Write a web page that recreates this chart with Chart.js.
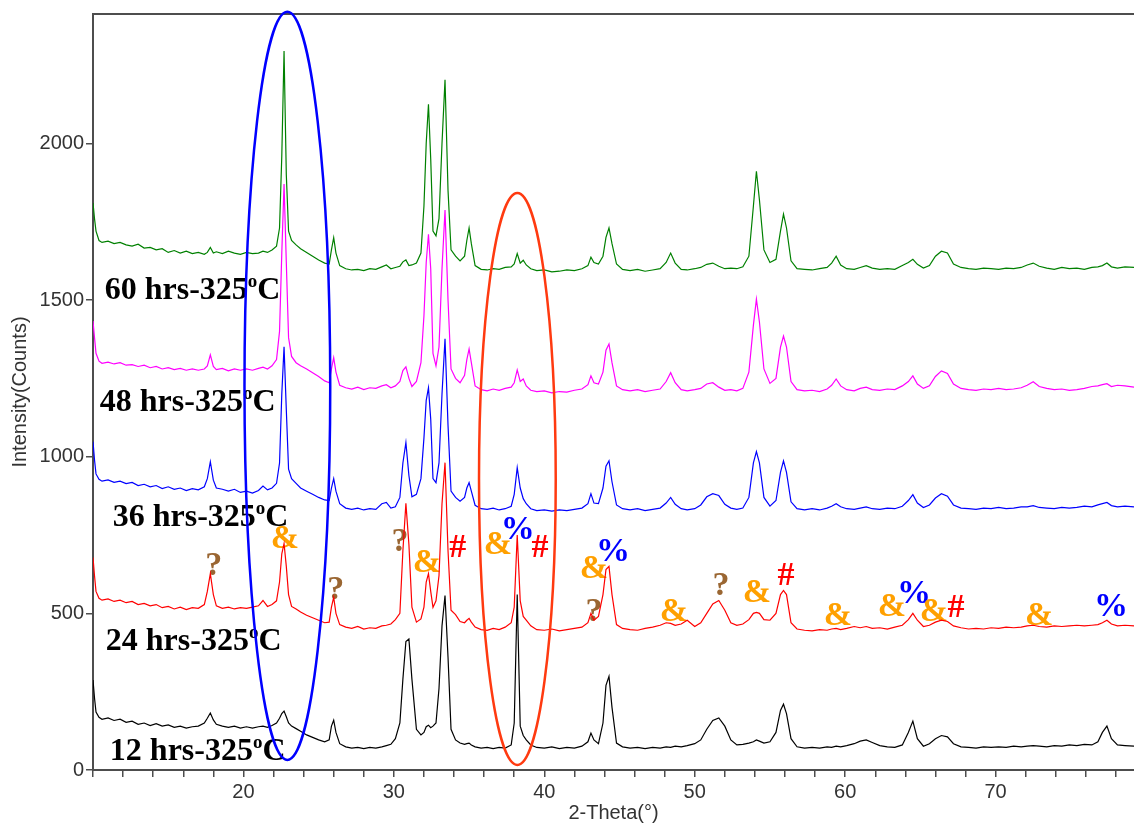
<!DOCTYPE html>
<html>
<head>
<meta charset="utf-8">
<script src="https://cdn.jsdelivr.net/npm/chart.js@4.4.1/dist/chart.umd.min.js"></script>
<style>
  html, body { margin: 0; padding: 0; background: #fff; }
  canvas { display: block; }
</style>
</head>
<body>
<canvas id="xrdChart" width="1134" height="825"></canvas>
<script>
// 2-theta sampling (degrees), shared by all patterns
const twoTheta = [
  10.0,10.1,10.2,10.4,10.6,11.0,11.4,11.8,12.2,12.6,13.0,13.4,13.8,14.2,14.6,15.0,15.4,15.8,16.2,16.6,17.0,17.4,
  17.6,17.8,18.0,18.2,18.6,19.0,19.4,19.8,20.2,20.6,21.0,21.3,21.6,21.9,22.2,22.4,22.55,22.7,22.85,23.0,23.2,23.5,23.8,24.2,24.6,25.0,25.4,25.7,25.85,26.0,26.15,26.4,
  26.8,27.2,27.6,28.0,28.4,28.8,29.2,29.5,29.8,30.1,30.4,30.6,30.8,31.0,31.2,31.5,31.8,32.0,32.15,32.3,32.45,32.6,32.8,33.0,33.2,33.4,33.6,33.8,34.1,34.4,34.7,34.85,35.0,35.15,35.4,
  35.8,36.2,36.6,37.0,37.4,37.8,38.0,38.2,38.4,38.6,38.8,39.1,39.5,40.0,40.5,41.0,41.5,42.0,42.5,42.9,43.1,43.3,43.6,43.9,44.1,44.3,44.5,44.8,45.2,
  45.7,46.2,46.7,47.2,47.7,48.1,48.4,48.7,49.1,49.5,50.0,50.4,50.8,51.2,51.6,52.0,52.4,52.8,53.2,53.6,53.9,54.1,54.3,54.6,55.0,55.4,55.7,55.9,56.1,56.4,56.8,
  57.3,57.8,58.3,58.8,59.1,59.4,59.7,60.1,60.6,61.0,61.4,61.8,62.3,62.8,63.3,63.8,64.2,64.5,64.8,65.2,65.6,66.0,66.4,66.8,67.2,67.7,68.2,
  68.7,69.2,69.7,70.2,70.7,71.2,71.7,72.1,72.5,72.9,73.4,73.9,74.4,74.9,75.4,75.9,76.4,76.8,77.1,77.4,77.7,78.1,78.6,79.2
];

// intensity (counts) for each calcination time
const counts60h = [
  1810,1760,1720,1690,1684,1688,1680,1684,1676,1672,1678,1666,1668,1660,1664,1652,1658,1650,1656,1648,1652,1646,
  1652,1668,1650,1654,1648,1656,1650,1646,1652,1648,1650,1656,1652,1660,1672,1730,1960,2295,1900,1720,1690,1676,1664,1652,1640,1628,1618,1615,1660,1699,1650,1610,
  1600,1596,1598,1594,1600,1598,1606,1612,1600,1604,1608,1622,1628,1610,1612,1618,1650,1800,2000,2125,1950,1720,1705,1760,2000,2203,1850,1660,1640,1625,1640,1690,1730,1680,1610,
  1598,1596,1600,1598,1604,1606,1615,1648,1618,1627,1612,1600,1594,1596,1590,1592,1596,1594,1600,1610,1637,1620,1615,1640,1700,1730,1680,1615,1598,
  1594,1598,1592,1596,1600,1620,1650,1618,1598,1596,1600,1604,1614,1618,1608,1600,1602,1600,1606,1640,1800,1911,1820,1660,1620,1630,1720,1774,1730,1625,1600,
  1598,1596,1600,1604,1618,1640,1612,1600,1598,1604,1610,1602,1598,1600,1598,1610,1620,1630,1614,1602,1610,1640,1656,1650,1615,1604,1600,
  1598,1602,1600,1598,1602,1600,1604,1612,1618,1608,1602,1598,1604,1600,1602,1598,1604,1606,1610,1618,1606,1602,1606,1604
];
const counts48h = [
  1433,1380,1330,1305,1298,1302,1296,1300,1292,1294,1288,1292,1284,1288,1280,1284,1278,1282,1276,1280,1276,1280,
  1290,1325,1288,1278,1282,1274,1280,1276,1280,1276,1282,1286,1280,1290,1310,1400,1650,1870,1620,1380,1320,1300,1290,1280,1268,1256,1242,1236,1280,1316,1270,1228,
  1220,1216,1222,1214,1220,1218,1226,1230,1220,1226,1240,1275,1287,1250,1224,1240,1300,1450,1620,1710,1600,1330,1290,1350,1600,1787,1500,1280,1250,1236,1260,1310,1344,1300,1226,
  1214,1210,1216,1212,1218,1222,1236,1277,1240,1248,1226,1212,1208,1210,1204,1208,1206,1212,1216,1230,1258,1236,1232,1270,1340,1360,1300,1226,1214,
  1210,1214,1208,1212,1216,1240,1268,1236,1214,1210,1214,1218,1232,1236,1222,1212,1214,1210,1218,1270,1420,1503,1430,1280,1234,1250,1350,1385,1350,1240,1214,
  1210,1212,1208,1216,1228,1248,1226,1214,1210,1218,1222,1214,1212,1216,1214,1226,1240,1258,1232,1218,1226,1256,1274,1266,1232,1218,1214,
  1212,1216,1214,1218,1214,1216,1220,1228,1239,1224,1218,1214,1216,1212,1214,1218,1224,1226,1230,1233,1224,1228,1226,1222
];
const counts36h = [
  1048,990,945,928,922,926,918,922,914,918,908,912,904,908,898,904,896,900,892,898,894,904,
  930,984,925,900,896,890,896,886,890,884,892,906,894,900,915,980,1200,1351,1150,960,930,915,900,890,880,870,862,860,900,930,890,850,
  836,832,836,830,834,832,850,854,836,840,870,980,1045,940,872,880,930,1060,1180,1220,1120,930,917,980,1200,1376,1100,890,870,858,870,900,917,890,845,
  834,832,836,830,834,842,880,965,900,866,850,834,828,830,826,830,828,832,836,850,882,852,850,900,970,987,920,846,834,
  830,834,828,832,836,852,870,848,834,830,834,846,872,882,876,848,836,832,836,870,980,1016,980,870,842,860,950,987,950,856,834,
  830,834,830,836,842,850,840,834,832,836,840,834,832,836,834,842,860,879,852,838,846,868,882,874,846,836,834,
  832,836,834,838,834,836,840,840,844,838,836,834,838,836,838,842,840,846,850,854,844,840,842,840
];
const counts24h = [
  678,620,570,548,542,546,538,542,534,538,528,532,524,528,518,522,514,520,512,518,516,528,
  570,627,560,524,516,520,514,518,516,520,524,541,522,528,540,600,690,723,650,560,522,514,504,494,486,478,470,472,520,551,500,464,
  456,452,458,450,454,452,460,462,466,480,500,700,851,720,520,472,482,520,600,627,570,519,540,620,850,981,700,510,496,474,470,478,484,472,456,
  448,446,452,448,456,470,520,750,540,490,478,460,448,446,450,444,448,452,456,470,500,478,490,560,640,650,560,464,452,
  448,446,452,456,462,470,468,462,466,478,458,470,500,530,541,510,470,462,466,480,500,503,500,480,478,500,560,573,560,470,450,
  446,444,448,446,450,452,448,452,458,454,458,452,454,450,456,462,480,500,478,458,462,472,478,474,460,454,450,
  452,450,454,452,456,454,456,460,462,458,456,460,458,460,462,460,462,464,470,478,466,460,462,460
];
const counts12h = [
  287,230,185,168,162,166,158,162,152,156,146,150,142,148,140,144,136,140,134,138,140,150,
  165,182,160,146,140,136,140,134,138,134,138,140,136,142,150,165,180,188,170,150,140,132,124,112,104,96,90,96,140,159,120,84,
  74,70,72,68,72,70,74,78,82,100,150,290,410,418,290,130,112,120,138,143,135,140,150,260,460,557,360,130,96,86,82,84,86,80,74,
  70,72,68,72,70,80,150,560,140,110,96,80,72,70,74,68,72,70,76,90,118,96,84,150,270,299,200,86,74,
  70,72,68,72,70,74,72,76,74,78,84,96,130,158,166,140,96,80,82,86,90,96,92,86,90,120,190,210,180,100,74,
  70,72,70,74,72,76,74,78,84,92,96,88,78,74,72,80,120,156,100,76,84,100,110,106,84,74,72,
  70,74,72,74,72,76,74,76,78,76,74,78,76,80,78,82,80,90,120,140,100,80,78,76
];

const intensityTicks = [0, 500, 1000, 1500, 2000];

const seriesNames = ["60 hrs-325ºC", "48 hrs-325ºC", "36 hrs-325ºC", "24 hrs-325ºC", "12 hrs-325ºC"];
const seriesCounts = [counts60h, counts48h, counts36h, counts24h, counts12h];
// where each name sits (left edge in 2-theta, baseline in counts)
const nameX = [10.78, 10.45, 11.31, 10.85, 11.12];
const nameY = [1503, 1147, 780, 382, 32];

// phase marks over the 24 h pattern
const markText = ["?", "&", "?", "?", "&", "#", "&", "%", "#", "?", "&", "%", "&", "?", "&", "#", "&", "&", "%", "&", "#", "&", "%"];
const markX = [18.03, 22.75, 26.14, 30.40, 32.19, 34.25, 36.91, 38.24, 39.71, 43.30, 43.30, 44.56, 48.62, 51.75, 54.14, 56.07, 59.52, 63.11, 64.57, 65.90, 67.37, 72.89, 77.67];
const markY = [621, 710, 547, 700, 633, 681, 691, 738, 681, 477, 614, 668, 477, 557, 535, 589, 462, 493, 532, 477, 487, 462, 493];

// highlighted regions (centre and half axes in data units)
const ringX = [22.92, 38.21];
const ringY = [1226, 929];
const ringHalfX = [2.85, 2.55];
const ringHalfY = [1194, 913];

const lineColors = ["#008000", "#ff00ff", "#0000ff", "#ff0000", "#000000"];
const markColors = { "?": "#9a6632", "&": "#ffa000", "#": "#ff0000", "%": "#0000ff" };
const ringColors = ["#0000ff", "#ff3a10"];
const serif = '"Times New Roman", "Liberation Serif", serif';
const sans = 'Arial, "Liberation Sans", sans-serif';

const overlay = {
  id: "overlay",
  beforeDatasetsDraw(chart) {
    const { ctx, scales: { x, y } } = chart;
    ctx.save();
    ctx.textBaseline = "alphabetic";
    // pattern names, with raised "o" in the degree sign
    ctx.fillStyle = "#000";
    seriesNames.forEach((name, i) => {
      const parts = name.split("º");
      let px = x.getPixelForValue(nameX[i]);
      const py = y.getPixelForValue(nameY[i]);
      ctx.textAlign = "left";
      ctx.font = "bold 32px " + serif;
      ctx.fillText(parts[0], px, py);
      px += ctx.measureText(parts[0]).width;
      ctx.font = "bold 19px " + serif;
      ctx.fillText("o", px, py - 12);
      px += ctx.measureText("o").width;
      ctx.font = "bold 32px " + serif;
      ctx.fillText(parts[1], px, py);
    });
    // phase marks
    ctx.textAlign = "center";
    ctx.font = "bold 34px " + serif;
    markText.forEach((m, i) => {
      ctx.fillStyle = markColors[m];
      ctx.fillText(m, x.getPixelForValue(markX[i]), y.getPixelForValue(markY[i]));
    });
    ctx.restore();
  },
  afterDatasetsDraw(chart) {
    const { ctx, chartArea, scales: { x, y } } = chart;
    ctx.save();
    // top frame
    ctx.strokeStyle = "#4d4d4d";
    ctx.lineWidth = 2;
    ctx.beginPath();
    ctx.moveTo(chartArea.left, chartArea.top);
    ctx.lineTo(chartArea.right, chartArea.top);
    ctx.stroke();
    // ellipses
    ringX.forEach((cx, i) => {
      const px = x.getPixelForValue(cx);
      const py = y.getPixelForValue(ringY[i]);
      const rx = Math.abs(x.getPixelForValue(cx + ringHalfX[i]) - px);
      const ry = Math.abs(y.getPixelForValue(ringY[i] + ringHalfY[i]) - py);
      ctx.strokeStyle = ringColors[i];
      ctx.lineWidth = 2.5;
      ctx.beginPath();
      ctx.ellipse(px, py, rx, ry, 0, 0, Math.PI * 2);
      ctx.stroke();
    });
    ctx.restore();
  }
};

const datasets = seriesCounts.map((vals, i) => ({
  label: seriesNames[i],
  data: twoTheta.map((t, j) => ({ x: t, y: vals[j] })),
  borderColor: lineColors[i],
  borderWidth: 1.2,
  pointRadius: 0,
  tension: 0,
  fill: false
}));

new Chart(document.getElementById("xrdChart"), {
  type: "line",
  data: { datasets: datasets },
  options: {
    responsive: false,
    animation: false,
    devicePixelRatio: 1,
    layout: { padding: { top: 12, right: 0, bottom: 0, left: 0 } },
    plugins: { legend: { display: false }, tooltip: { enabled: false } },
    scales: {
      x: {
        type: "linear",
        min: 10,
        max: 79.2,
        afterFit: function (s) { s.height = 55; },
        ticks: {
          stepSize: 2,
          includeBounds: false,
          autoSkip: false,
          maxRotation: 0,
          padding: 3,
          color: "#333",
          font: { family: sans, size: 20 },
          callback: function (v) { return (v % 10 === 0 && v >= 20) ? v : ""; }
        },
        grid: { drawOnChartArea: false, tickLength: 7, color: "#4d4d4d", lineWidth: 1.5 },
        border: { display: true, color: "#4d4d4d", width: 2 },
        title: { display: true, text: "2-Theta(°)", color: "#333", font: { family: sans, size: 20 }, padding: { top: 0, bottom: 0 } }
      },
      y: {
        min: 0,
        max: 2413,
        afterFit: function (s) { s.width = 93; },
        afterBuildTicks: function (s) { s.ticks = intensityTicks.map(v => ({ value: v })); },
        ticks: {
          autoSkip: false,
          padding: 2,
          color: "#333",
          font: { family: sans, size: 20 },
          callback: function (v) { return String(v); }
        },
        grid: { drawOnChartArea: false, tickLength: 7, color: "#4d4d4d", lineWidth: 1.5 },
        border: { display: true, color: "#4d4d4d", width: 2 },
        title: { display: true, text: "Intensity(Counts)", color: "#333", font: { family: sans, size: 20 }, padding: { top: 8, bottom: 0 } }
      }
    }
  },
  plugins: [overlay]
});
</script>
</body>
</html>
